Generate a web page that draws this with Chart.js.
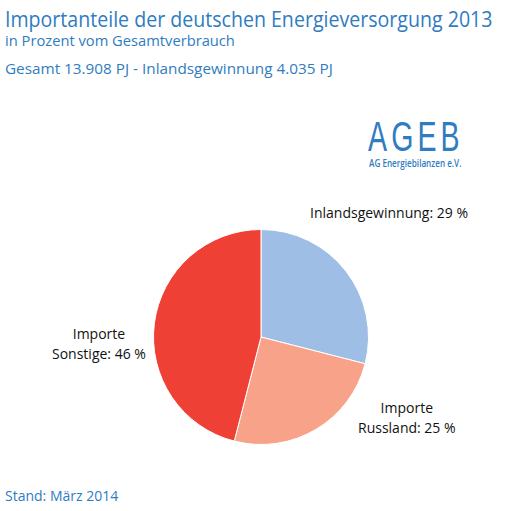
<!DOCTYPE html>
<html><head><meta charset="utf-8">
<script src="https://cdn.jsdelivr.net/npm/chart.js@4"></script>
<style>
body{margin:0;width:530px;height:511px;background:#fff;position:relative;overflow:hidden;font-family:"DejaVu Sans Condensed","Open Sans",sans-serif}
.t{position:absolute;color:#2f7cc0;white-space:nowrap;transform-origin:left top}
.l{position:absolute;color:#111;font-family:"Open Sans",sans-serif;font-size:14px;line-height:20px}
#c{position:absolute;left:0;top:0}
</style></head><body>
<div class="t" style="left:5px;top:3px;font-size:22px;font-family:'Open Sans',sans-serif;transform:scaleX(0.89)">Importanteile der deutschen Energieversorgung 2013</div>
<div class="t" style="left:5px;top:30px;font-size:15px;font-family:'Open Sans',sans-serif;transform:scaleX(0.98)">in Prozent vom Gesamtverbrauch</div>
<div class="t" style="left:5px;top:58px;font-size:15px;font-family:'Open Sans',sans-serif;transform:scaleX(1.02)">Gesamt 13.908 PJ - Inlandsgewinnung 4.035 PJ</div>
<div class="t" style="left:368px;top:117px;font-size:42px;letter-spacing:6px;font-family:'Liberation Sans',sans-serif;line-height:40px;transform:scaleX(0.68)">AGEB</div>
<div class="t" style="left:369px;top:155px;font-size:11px;font-family:'Open Sans',sans-serif;transform:scaleX(0.74);font-weight:600">AG Energiebilanzen e.V.</div>
<div class="t" style="left:5px;top:486px;font-size:14px;font-family:'Open Sans',sans-serif">Stand: März 2014</div>
<div class="l" style="left:310px;top:203px">Inlandsgewinnung: 29 %</div>
<div class="l" style="left:358px;top:398px;text-align:center">Importe<br>Russland: 25 %</div>
<div class="l" style="left:52px;top:324px;text-align:center">Importe<br>Sonstige: 46 %</div>
<canvas id="c" width="530" height="511"></canvas>
<script>
const categories=["Inlandsgewinnung","Importe Russland","Importe Sonstige"];
const values=[29,25,46];
const colors=["#9ebee6","#f8a389","#ef4036"];
new Chart(document.getElementById('c'),{type:'pie',
data:{labels:categories,datasets:[{data:values,backgroundColor:colors,borderColor:'#fff',borderWidth:1}]},
options:{responsive:false,animation:false,layout:{padding:{top:229,bottom:66,left:153,right:161}},
plugins:{legend:{display:false},tooltip:{enabled:false}}}});
</script></body></html>
